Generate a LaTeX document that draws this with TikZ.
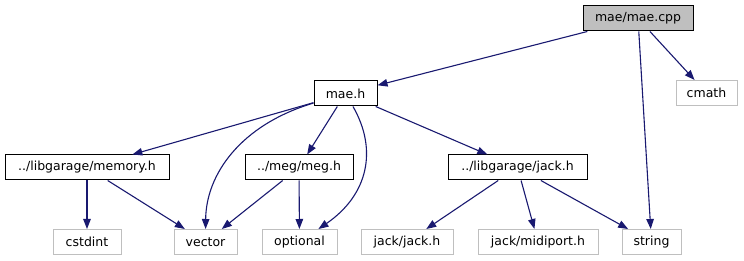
\documentclass[tikz,border=0pt]{standalone}
\usepackage{fontspec}
\setmainfont{DejaVu Sans}
\usetikzlibrary{arrows.meta}

\definecolor{edgeblue}{HTML}{191970}
\definecolor{boxgray}{HTML}{BFBFBF}

\begin{document}
\begin{tikzpicture}[x=1pt,y=-1pt,
  font=\fontsize{12.5}{14}\selectfont,
  file/.style={draw=black,fill=white,line width=1pt,inner sep=0pt,minimum height=25pt},
  mainfile/.style={file,fill=boxgray},
  sysfile/.style={file,draw=boxgray},
  dep/.style={draw=edgeblue,line width=1.1pt,-{Triangle[length=10pt,width=7.5pt]}}]
\useasboundingbox (0,0) rectangle (744,261);
% top and middle rows
\node[mainfile,minimum width=110pt] (cpp) at (638,18.5) {mae/mae.cpp};
\node[sysfile,minimum width=61pt] (cmath) at (706.5,93) {cmath};
\node[file,minimum width=63pt] (mae) at (345.5,93.5) {mae.h};
\node[file,minimum width=164pt] (memory) at (87,167.5) {../libgarage/memory.h};
\node[file,minimum width=108pt] (meg) at (299,167.5) {../meg/meg.h};
\node[file,minimum width=139pt] (jack) at (517.5,167.5) {../libgarage/jack.h};
% system headers
\node[sysfile,minimum width=68pt] (cstdint) at (87,242) {cstdint};
\node[sysfile,minimum width=63pt] (vector) at (205.5,242) {vector};
\node[sysfile,minimum width=75pt] (optional) at (299.5,242) {optional};
\node[sysfile,minimum width=92pt] (jackjack) at (407,242) {jack/jack.h};
\node[sysfile,minimum width=120pt] (midiport) at (538,242) {jack/midiport.h};
\node[sysfile,minimum width=59pt] (string) at (651.5,242) {string};

\draw[dep] (cpp) -- (mae);
\draw[dep] (cpp) -- (cmath);
\draw[dep] (cpp) -- (string);
\draw[dep] (mae) -- (memory);
\draw[dep] (mae) .. controls (240,125) and (206,175) .. (vector);
\draw[dep] (mae) -- (meg);
\draw[dep] (mae) .. controls (378,150) and (368,195) .. (optional);
\draw[dep] (mae) -- (jack);
\draw[dep] (memory) -- (cstdint);
\draw[dep] (memory) -- (vector);
\draw[dep] (meg) -- (vector);
\draw[dep] (meg) -- (optional);
\draw[dep] (jack) -- (jackjack);
\draw[dep] (jack) -- (midiport);
\draw[dep] (jack) -- (string);
\end{tikzpicture}
\end{document}
